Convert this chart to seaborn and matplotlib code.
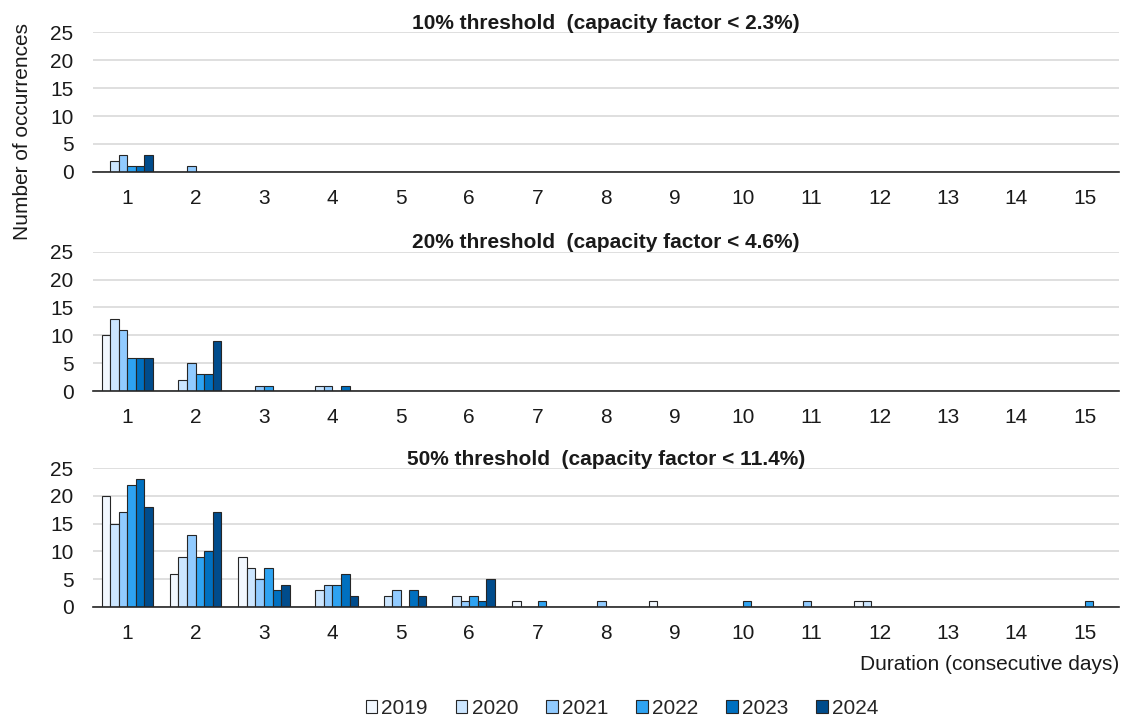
import numpy as np
import pandas as pd
import matplotlib
matplotlib.use("Agg")
import matplotlib.pyplot as plt
from matplotlib.patches import Patch
import seaborn as sns

days = list(range(1, 16))
years = ["2019", "2020", "2021", "2022", "2023", "2024"]
colors = ["#f2f8ff", "#cce6ff", "#91cbff", "#2ea3f2", "#0070c0", "#004c8c"]

titles = ["10% threshold  (capacity factor < 2.3%)",
          "20% threshold  (capacity factor < 4.6%)",
          "50% threshold  (capacity factor < 11.4%)"]

# counts per year, indexed by duration 1..15
t10_2019 = [0, 0, 0, 0, 0, 0, 0, 0, 0, 0, 0, 0, 0, 0, 0]
t10_2020 = [2, 0, 0, 0, 0, 0, 0, 0, 0, 0, 0, 0, 0, 0, 0]
t10_2021 = [3, 1, 0, 0, 0, 0, 0, 0, 0, 0, 0, 0, 0, 0, 0]
t10_2022 = [1, 0, 0, 0, 0, 0, 0, 0, 0, 0, 0, 0, 0, 0, 0]
t10_2023 = [1, 0, 0, 0, 0, 0, 0, 0, 0, 0, 0, 0, 0, 0, 0]
t10_2024 = [3, 0, 0, 0, 0, 0, 0, 0, 0, 0, 0, 0, 0, 0, 0]

t20_2019 = [10, 0, 0, 0, 0, 0, 0, 0, 0, 0, 0, 0, 0, 0, 0]
t20_2020 = [13, 2, 0, 1, 0, 0, 0, 0, 0, 0, 0, 0, 0, 0, 0]
t20_2021 = [11, 5, 1, 1, 0, 0, 0, 0, 0, 0, 0, 0, 0, 0, 0]
t20_2022 = [6, 3, 1, 0, 0, 0, 0, 0, 0, 0, 0, 0, 0, 0, 0]
t20_2023 = [6, 3, 0, 1, 0, 0, 0, 0, 0, 0, 0, 0, 0, 0, 0]
t20_2024 = [6, 9, 0, 0, 0, 0, 0, 0, 0, 0, 0, 0, 0, 0, 0]

t50_2019 = [20, 6, 9, 0, 0, 0, 1, 0, 1, 0, 0, 1, 0, 0, 0]
t50_2020 = [15, 9, 7, 3, 2, 2, 0, 0, 0, 0, 0, 1, 0, 0, 0]
t50_2021 = [17, 13, 5, 4, 3, 1, 0, 1, 0, 0, 1, 0, 0, 0, 0]
t50_2022 = [22, 9, 7, 4, 0, 2, 1, 0, 0, 1, 0, 0, 0, 0, 1]
t50_2023 = [23, 10, 3, 6, 3, 1, 0, 0, 0, 0, 0, 0, 0, 0, 0]
t50_2024 = [18, 17, 4, 2, 2, 5, 0, 0, 0, 0, 0, 0, 0, 0, 0]

panels = [
    [t10_2019, t10_2020, t10_2021, t10_2022, t10_2023, t10_2024],
    [t20_2019, t20_2020, t20_2021, t20_2022, t20_2023, t20_2024],
    [t50_2019, t50_2020, t50_2021, t50_2022, t50_2023, t50_2024],
]

sns.set_theme(style="white")
plt.rcParams["font.family"] = ["Liberation Sans", "DejaVu Sans"]

fig = plt.figure(figsize=(11.27, 7.19), dpi=100)
# [left, bottom, width, height] in figure fraction
boxes = [
    [0.0825, 0.761, 0.9105, 0.194],
    [0.0825, 0.456, 0.9105, 0.194],
    [0.0825, 0.156, 0.9105, 0.193],
]

for i, (series, title) in enumerate(zip(panels, titles)):
    rows = []
    for y, vals in zip(years, series):
        for d, v in zip(days, vals):
            rows.append({"day": str(d), "count": v, "year": y})
    df = pd.DataFrame(rows)
    ax = fig.add_axes(boxes[i])
    sns.barplot(data=df, x="day", y="count", hue="year", order=[str(d) for d in days],
                hue_order=years, palette=colors, saturation=1, width=0.75, gap=0,
                edgecolor="#262626", linewidth=0.8, ax=ax, legend=False, errorbar=None)
    ax.set_ylim(0, 25)
    ax.set_xlim(-0.5, 14.5)
    ax.set_yticks([0, 5, 10, 15, 20, 25])
    ax.yaxis.grid(True, color="#d9d9d9", linewidth=1.2)
    ax.set_axisbelow(True)
    for s in ["top", "right", "left"]:
        ax.spines[s].set_visible(False)
    ax.spines["bottom"].set_color("#262626")
    ax.spines["bottom"].set_linewidth(1.2)
    ax.tick_params(axis="both", length=0, labelsize=15, colors="#1a1a1a")
    ax.tick_params(axis="x", pad=12)
    ax.tick_params(axis="y", pad=14)
    ax.set_xlabel("")
    ax.set_ylabel("")
    ax.set_title(title, fontsize=15, fontweight="bold", pad=2.5, color="#1a1a1a")
    if i == 2:
        ax.set_xlabel("Duration (consecutive days)", fontsize=15, loc="right",
                      labelpad=9, color="#1a1a1a")

fig.text(0.02, 1 - 132 / 719, "Number of occurrences", rotation=90,
         ha="center", va="center", fontsize=15, color="#1a1a1a")

handles = [Patch(facecolor=c, edgecolor="#262626", linewidth=0.8, label=y)
           for c, y in zip(colors, years)]
fig.legend(handles=handles, loc="center", bbox_to_anchor=(0.552, 0.015), ncol=6,
           frameon=False, fontsize=15, handlelength=0.55, handleheight=0.55,
           handletextpad=0.2, columnspacing=1.35)

fig.savefig("out.png", dpi=100)
